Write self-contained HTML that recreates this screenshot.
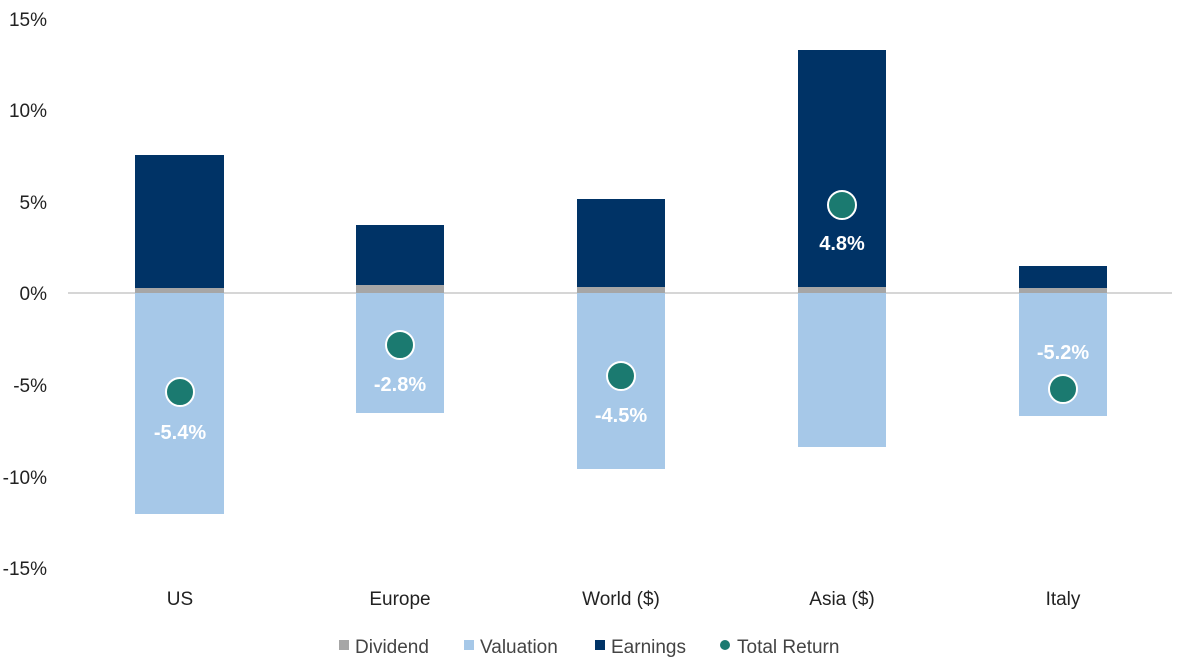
<!DOCTYPE html>
<html><head><meta charset="utf-8"><style>
body{margin:0;background:#fff;}
svg{display:block;font-family:"Liberation Sans",sans-serif;}
</style></head><body>
<svg width="1183" height="668" xmlns="http://www.w3.org/2000/svg">
<g font-size="19" fill="#222" text-anchor="end">
<text x="47" y="26">15%</text>
<text x="47" y="117">10%</text>
<text x="47" y="209">5%</text>
<text x="47" y="300">0%</text>
<text x="47" y="392">-5%</text>
<text x="47" y="484">-10%</text>
<text x="47" y="575">-15%</text>
</g>
<line x1="68" y1="293" x2="1172" y2="293" stroke="#c8c8c8" stroke-width="1.5"/>
<rect x="135" y="155" width="89" height="133" fill="#003366"/>
<rect x="135" y="288" width="89" height="5" fill="#a6a6a6"/>
<rect x="135" y="293" width="89" height="221" fill="#a6c8e8"/>
<rect x="356" y="225" width="88" height="60" fill="#003366"/>
<rect x="356" y="285" width="88" height="8" fill="#a6a6a6"/>
<rect x="356" y="293" width="88" height="120" fill="#a6c8e8"/>
<rect x="577" y="199" width="88" height="88" fill="#003366"/>
<rect x="577" y="287" width="88" height="6" fill="#a6a6a6"/>
<rect x="577" y="293" width="88" height="176" fill="#a6c8e8"/>
<rect x="798" y="50" width="88" height="237" fill="#003366"/>
<rect x="798" y="287" width="88" height="6" fill="#a6a6a6"/>
<rect x="798" y="293" width="88" height="154" fill="#a6c8e8"/>
<rect x="1019" y="266" width="88" height="22" fill="#003366"/>
<rect x="1019" y="288" width="88" height="5" fill="#a6a6a6"/>
<rect x="1019" y="293" width="88" height="123" fill="#a6c8e8"/>
<g fill="#1b7a70" stroke="#fff" stroke-width="2">
<circle cx="180" cy="392" r="14"/>
<circle cx="400" cy="345" r="14"/>
<circle cx="621" cy="376" r="14"/>
<circle cx="842" cy="205" r="14"/>
<circle cx="1063" cy="389" r="14"/>
</g>
<g font-size="20" font-weight="bold" fill="#fff" text-anchor="middle">
<text x="180" y="439">-5.4%</text>
<text x="400" y="391">-2.8%</text>
<text x="621" y="422">-4.5%</text>
<text x="842" y="250">4.8%</text>
<text x="1063" y="359">-5.2%</text>
</g>
<g font-size="19" fill="#222" text-anchor="middle">
<text x="180" y="605">US</text>
<text x="400" y="605">Europe</text>
<text x="621" y="605">World ($)</text>
<text x="842" y="605">Asia ($)</text>
<text x="1063" y="605">Italy</text>
</g>
<g font-size="19" fill="#444">
<rect x="339" y="640" width="10" height="10" fill="#a6a6a6"/>
<text x="355" y="653">Dividend</text>
<rect x="464" y="640" width="10" height="10" fill="#a6c8e8"/>
<text x="480" y="653">Valuation</text>
<rect x="595" y="640" width="10" height="10" fill="#003366"/>
<text x="611" y="653">Earnings</text>
<circle cx="725" cy="645" r="5" fill="#1b7a70"/>
<text x="737" y="653">Total Return</text>
</g>
</svg>
</body></html>
